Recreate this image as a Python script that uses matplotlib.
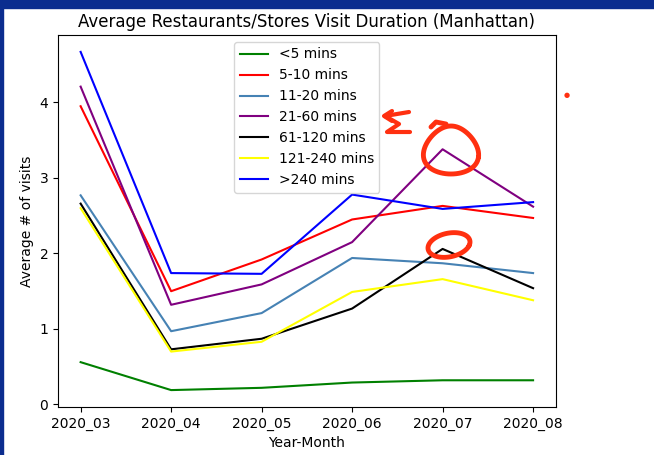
import matplotlib.pyplot as plt
import matplotlib.patches as mpatches
import numpy as np

months = ["2020_03", "2020_04", "2020_05", "2020_06", "2020_07", "2020_08"]

lt5 = [0.56, 0.19, 0.22, 0.29, 0.32, 0.32]
m5_10 = [3.95, 1.50, 1.92, 2.45, 2.63, 2.47]
m11_20 = [2.77, 0.97, 1.21, 1.94, 1.87, 1.74]
m21_60 = [4.21, 1.32, 1.59, 2.15, 3.38, 2.62]
m61_120 = [2.66, 0.73, 0.87, 1.27, 2.06, 1.54]
m121_240 = [2.60, 0.70, 0.83, 1.49, 1.66, 1.38]
gt240 = [4.67, 1.74, 1.73, 2.78, 2.59, 2.68]

series = [
    ("<5 mins", lt5, "green"),
    ("5-10 mins", m5_10, "red"),
    ("11-20 mins", m11_20, "steelblue"),
    ("21-60 mins", m21_60, "purple"),
    ("61-120 mins", m61_120, "black"),
    ("121-240 mins", m121_240, "yellow"),
    (">240 mins", gt240, "blue"),
]

fig = plt.figure(figsize=(6.54, 4.55), dpi=100)
ax = fig.add_axes([0.0887, 0.1055, 0.761, 0.8176])

for label, vals, col in series:
    ax.plot(months, vals, color=col, label=label, linewidth=1.5)

ax.set_title("Average Restaurants/Stores Visit Duration (Manhattan)")
ax.set_xlabel("Year-Month")
ax.set_ylabel("Average # of visits")
ax.legend(loc="upper center", bbox_to_anchor=(0.5, 1.0))

# screenshot frame (dark blue band top and left)
fig.patches.append(mpatches.Rectangle((0, 1 - 8 / 455), 1, 8 / 455, transform=fig.transFigure,
                                      color="#0b2d8f", zorder=10))
fig.patches.append(mpatches.Rectangle((0, 0), 3 / 654, 1, transform=fig.transFigure,
                                      color="#0b2d8f", zorder=10))

# hand-drawn red marks on the screenshot
red = "#ff3010"


def scribble(xs, ys, lw=3.5):
    fig.lines.append(plt.Line2D(np.asarray(xs) / 654, 1 - np.asarray(ys) / 455,
                                transform=fig.transFigure, color=red, lw=lw,
                                solid_capstyle="round", solid_joinstyle="round"))


t = np.linspace(0.3, 2 * np.pi + 0.3, 80)
scribble(451 + 27 * np.cos(t) + 3 * np.sin(2 * t), 150 + 24 * np.sin(t))
scribble([431, 436, 446], [127, 122, 124])
scribble(449 + 21 * np.cos(t), 245 + 12 * np.sin(t) - 3 * np.cos(t))
scribble([409, 385, 399, 387, 410], [112, 116, 124, 132, 132], lw=3)
scribble([392, 384, 392], [111, 116, 121], lw=3)
fig.text(567 / 654, 1 - 95 / 455, "\u25cf", color=red, fontsize=5, ha="center", va="center")

plt.savefig("out.png")
plt.close()
